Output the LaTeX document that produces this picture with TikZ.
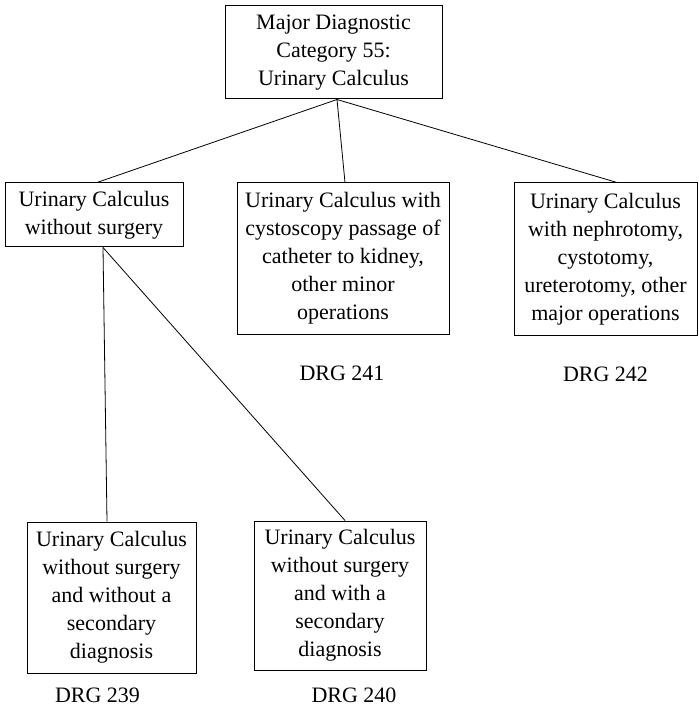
\documentclass[tikz,border=0pt]{standalone}
\usepackage{fontspec}
\setmainfont{Liberation Serif}
\usetikzlibrary{positioning}
\tikzset{
    x=1pt, y=-1pt, % pixel-like coordinates, y grows downwards
    every node/.style={font=\fontsize{22}{28}\selectfont}, % text size of the whole chart
    box/.style={draw, line width=1pt, align=center, inner sep=0pt}, % sets the properties for each category box
    drg/.style={inner sep=0pt}, % the DRG numbers under the boxes
    link/.style={line width=0.8pt}, % the tree lines
}

\begin{document}
\begin{tikzpicture}
            \useasboundingbox (0,0) rectangle (698,708);

            \node[box, minimum width=217pt, minimum height=93pt] (mdc) at (333.5,52.5) {Major Diagnostic\\Category 55:\\Urinary Calculus};
            \node[box, minimum width=178pt, minimum height=64pt] (nosurg) at (94,215) {Urinary Calculus\\without surgery};
            \node[box, minimum width=212pt, minimum height=151pt] (minor) at (343,258.5) {Urinary Calculus with\\cystoscopy passage of\\catheter to kidney,\\other minor\\operations};
            \node[box, minimum width=183pt, minimum height=152pt] (major) at (605.5,259) {Urinary Calculus\\with nephrotomy,\\cystotomy,\\ureterotomy, other\\major operations};
            \node[box, minimum width=169pt, minimum height=151pt] (nosec) at (111.5,597.5) {Urinary Calculus\\without surgery\\and without a\\secondary\\diagnosis};
            \node[box, minimum width=172pt, minimum height=149pt] (sec) at (340,595.5) {Urinary Calculus\\without surgery\\and with a\\secondary\\diagnosis};

            \node[drg, below=31pt of minor, xshift=-1pt] (drg241) {DRG 241};
            \node[drg, below=31pt of major] (drg242) {DRG 242};
            \node[drg, below=14pt of nosec, xshift=-14pt] (drg239) {DRG 239};
            \node[drg, below=17pt of sec, xshift=14pt] (drg240) {DRG 240};

            \draw[link] ([xshift=3.5pt]mdc.south) -- ([xshift=3pt]nosurg.north);
            \draw[link] ([xshift=3.5pt]mdc.south) -- ([xshift=2pt]minor.north);
            \draw[link] ([xshift=3.5pt]mdc.south) -- ([xshift=11.5pt]major.north);
            \draw[link] ([xshift=9pt]nosurg.south) -- ([xshift=-4.5pt]nosec.north);
            \draw[link] ([xshift=9pt]nosurg.south) -- ([xshift=5pt]sec.north);
        \end{tikzpicture}
\end{document}
